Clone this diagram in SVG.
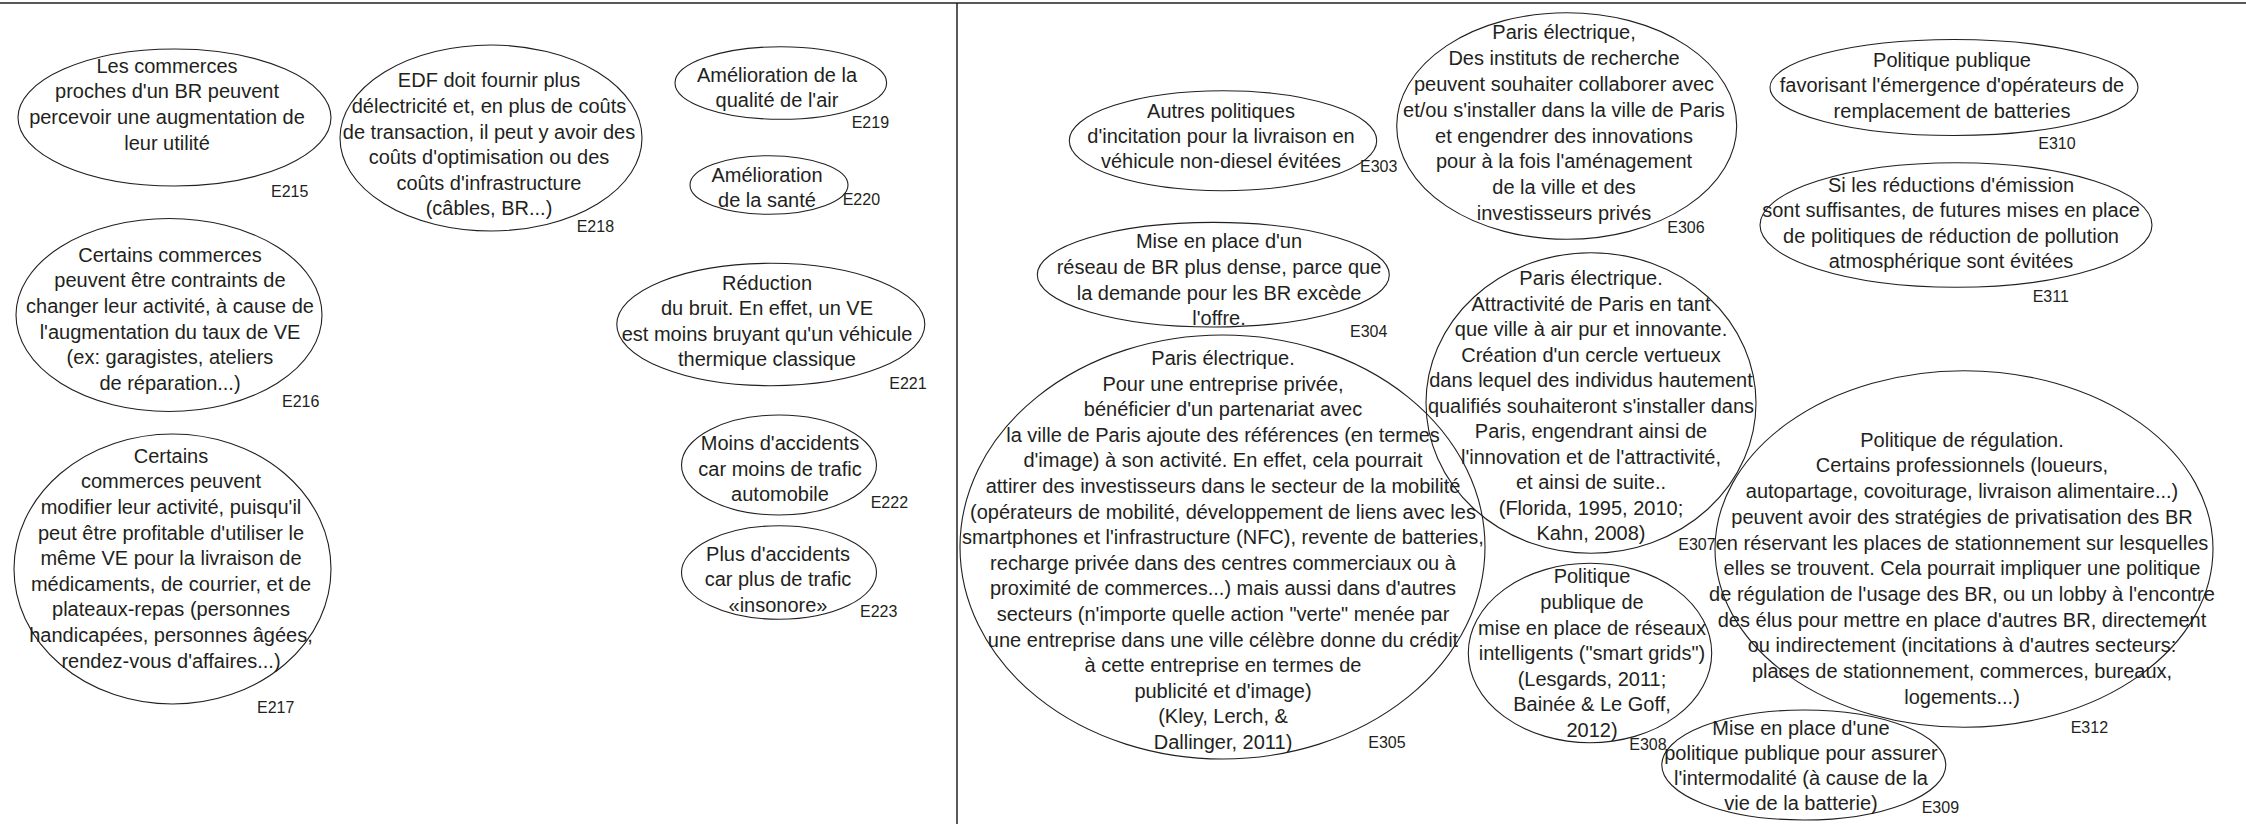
<svg xmlns="http://www.w3.org/2000/svg" width="2246" height="824" viewBox="0 0 2246 824">
<style>
.bg{fill:#ffffff}
.frame{stroke:#231f20;stroke-width:1.5;fill:none}
.n ellipse{fill:none;stroke:#231f20;stroke-width:1.1}
.t{font-family:"Liberation Sans",Arial,sans-serif;font-size:20px;fill:#231f20;text-anchor:middle}
.l{font-family:"Liberation Sans",Arial,sans-serif;font-size:16px;fill:#231f20}
</style>
<rect class="bg" x="0" y="0" width="2246" height="824"/>
<g id="frame">
<line class="frame" x1="0" y1="3" x2="2246" y2="3"/>
<line class="frame" x1="957" y1="3" x2="957" y2="824"/>
</g>
<g id="connectors"/>

<g id="E215" class="n">
<ellipse cx="174.5" cy="117.5" rx="156.5" ry="68.5"/>
<text class="t" y="72.7"><tspan x="167">Les commerces</tspan><tspan x="167" dy="25.6">proches d'un BR peuvent</tspan><tspan x="167" dy="25.6">percevoir une augmentation de</tspan><tspan x="167" dy="25.6">leur utilité</tspan></text>
<text class="l" x="271" y="196.7">E215</text>
</g>

<g id="E216" class="n">
<ellipse cx="169" cy="315" rx="153" ry="96.5"/>
<text class="t" y="261.7"><tspan x="170">Certains commerces</tspan><tspan x="170" dy="25.6">peuvent être contraints de</tspan><tspan x="170" dy="25.6">changer leur activité, à cause de</tspan><tspan x="170" dy="25.6">l'augmentation du taux de VE</tspan><tspan x="170" dy="25.6">(ex: garagistes, ateliers</tspan><tspan x="170" dy="25.6">de réparation...)</tspan></text>
<text class="l" x="282" y="406.7">E216</text>
</g>

<g id="E217" class="n">
<ellipse cx="172.5" cy="569" rx="158.5" ry="135"/>
<text class="t" y="462.7"><tspan x="171">Certains</tspan><tspan x="171" dy="25.6">commerces peuvent</tspan><tspan x="171" dy="25.6">modifier leur activité, puisqu'il</tspan><tspan x="171" dy="25.6">peut être profitable d'utiliser le</tspan><tspan x="171" dy="25.6">même VE pour la livraison de</tspan><tspan x="171" dy="25.6">médicaments, de courrier, et de</tspan><tspan x="171" dy="25.6">plateaux-repas (personnes</tspan><tspan x="171" dy="25.6">handicapées, personnes âgées,</tspan><tspan x="171" dy="25.6">rendez-vous d'affaires...)</tspan></text>
<text class="l" x="257" y="713.3">E217</text>
</g>

<g id="E218" class="n">
<ellipse cx="491" cy="138" rx="151" ry="93"/>
<text class="t" y="87.3"><tspan x="489">EDF doit fournir plus</tspan><tspan x="489" dy="25.6">délectricité et, en plus de coûts</tspan><tspan x="489" dy="25.6">de transaction, il peut y avoir des</tspan><tspan x="489" dy="25.6">coûts d'optimisation ou des</tspan><tspan x="489" dy="25.6">coûts d'infrastructure</tspan><tspan x="489" dy="25.6">(câbles, BR...)</tspan></text>
<text class="l" x="576.7" y="231.7">E218</text>
</g>

<g id="E219" class="n">
<ellipse cx="780.8" cy="83" rx="105.8" ry="36.3"/>
<text class="t" y="81.7"><tspan x="777">Amélioration de la</tspan><tspan x="777" dy="25.6">qualité de l'air</tspan></text>
<text class="l" x="851.7" y="128.3">E219</text>
</g>

<g id="E220" class="n">
<ellipse cx="769" cy="185" rx="79" ry="29.3"/>
<text class="t" y="181.7"><tspan x="767">Amélioration</tspan><tspan x="767" dy="25">de la santé</tspan></text>
<text class="l" x="842.7" y="205">E220</text>
</g>

<g id="E221" class="n">
<ellipse cx="770.8" cy="324.5" rx="154" ry="61.2"/>
<text class="t" y="290"><tspan x="767">Réduction</tspan><tspan x="767" dy="25.4">du bruit. En effet, un VE</tspan><tspan x="767" dy="25.4">est moins bruyant qu'un véhicule</tspan><tspan x="767" dy="25.4">thermique classique</tspan></text>
<text class="l" x="889.3" y="389">E221</text>
</g>

<g id="E222" class="n">
<ellipse cx="779" cy="465" rx="97.5" ry="50"/>
<text class="t" y="450"><tspan x="780">Moins d'accidents</tspan><tspan x="780" dy="25.5">car moins de trafic</tspan><tspan x="780" dy="25.5">automobile</tspan></text>
<text class="l" x="870.7" y="508.3">E222</text>
</g>

<g id="E223" class="n">
<ellipse cx="779" cy="572.5" rx="97.5" ry="46.8"/>
<text class="t" y="561"><tspan x="778">Plus d'accidents</tspan><tspan x="778" dy="25.4">car plus de trafic</tspan><tspan x="778" dy="25.4">«insonore»</tspan></text>
<text class="l" x="860" y="616.7">E223</text>
</g>

<g id="E303" class="n">
<ellipse cx="1223" cy="140.7" rx="153.7" ry="50"/>
<text class="t" y="118.3"><tspan x="1221">Autres politiques</tspan><tspan x="1221" dy="25">d'incitation pour la livraison en</tspan><tspan x="1221" dy="25">véhicule non-diesel évitées</tspan></text>
<text class="l" x="1360" y="171.7">E303</text>
</g>

<g id="E304" class="n">
<ellipse cx="1213.3" cy="274.7" rx="176" ry="52.3"/>
<text class="t" y="248.3"><tspan x="1219">Mise en place d'un</tspan><tspan x="1219" dy="25.6">réseau de BR plus dense, parce que</tspan><tspan x="1219" dy="25.6">la demande pour les BR excède</tspan><tspan x="1219" dy="25.6">l'offre.</tspan></text>
<text class="l" x="1350" y="337.3">E304</text>
</g>

<g id="E305" class="n">
<ellipse cx="1222.5" cy="547" rx="262.5" ry="212"/>
<text class="t" y="365"><tspan x="1223">Paris électrique.</tspan><tspan x="1223" dy="25.6">Pour une entreprise privée,</tspan><tspan x="1223" dy="25.6">bénéficier d'un partenariat avec</tspan><tspan x="1223" dy="25.6">la ville de Paris ajoute des références (en termes</tspan><tspan x="1223" dy="25.6">d'image) à son activité. En effet, cela pourrait</tspan><tspan x="1223" dy="25.6">attirer des investisseurs dans le secteur de la mobilité</tspan><tspan x="1223" dy="25.6">(opérateurs de mobilité, développement de liens avec les</tspan><tspan x="1223" dy="25.6">smartphones et l'infrastructure (NFC), revente de batteries,</tspan><tspan x="1223" dy="25.6">recharge privée dans des centres commerciaux ou à</tspan><tspan x="1223" dy="25.6">proximité de commerces...) mais aussi dans d'autres</tspan><tspan x="1223" dy="25.6">secteurs (n'importe quelle action "verte" menée par</tspan><tspan x="1223" dy="25.6">une entreprise dans une ville célèbre donne du crédit</tspan><tspan x="1223" dy="25.6">à cette entreprise en termes de</tspan><tspan x="1223" dy="25.6">publicité et d'image)</tspan><tspan x="1223" dy="25.6">(Kley, Lerch, &amp;</tspan><tspan x="1223" dy="25.6">Dallinger, 2011)</tspan></text>
<text class="l" x="1368.3" y="748.3">E305</text>
</g>

<g id="E306" class="n">
<ellipse cx="1566.7" cy="126" rx="170" ry="113.3"/>
<text class="t" y="39.3"><tspan x="1564">Paris électrique,</tspan><tspan x="1564" dy="25.8">Des instituts de recherche</tspan><tspan x="1564" dy="25.8">peuvent souhaiter collaborer avec</tspan><tspan x="1564" dy="25.8">et/ou s'installer dans la ville de Paris</tspan><tspan x="1564" dy="25.8">et engendrer des innovations</tspan><tspan x="1564" dy="25.8">pour à la fois l'aménagement</tspan><tspan x="1564" dy="25.8">de la ville et des</tspan><tspan x="1564" dy="25.8">investisseurs privés</tspan></text>
<text class="l" x="1667.3" y="233.3">E306</text>
</g>

<g id="E307" class="n">
<ellipse cx="1591" cy="403" rx="165" ry="150.3"/>
<text class="t" y="285"><tspan x="1591">Paris électrique.</tspan><tspan x="1591" dy="25.5">Attractivité de Paris en tant</tspan><tspan x="1591" dy="25.5">que ville à air pur et innovante.</tspan><tspan x="1591" dy="25.5">Création d'un cercle vertueux</tspan><tspan x="1591" dy="25.5">dans lequel des individus hautement</tspan><tspan x="1591" dy="25.5">qualifiés souhaiteront s'installer dans</tspan><tspan x="1591" dy="25.5">Paris, engendrant ainsi de</tspan><tspan x="1591" dy="25.5">l'innovation et de l'attractivité,</tspan><tspan x="1591" dy="25.5">et ainsi de suite..</tspan><tspan x="1591" dy="25.5">(Florida, 1995, 2010;</tspan><tspan x="1591" dy="25.5">Kahn, 2008)</tspan></text>
<text class="l" x="1678.3" y="550">E307</text>
</g>

<g id="E308" class="n">
<ellipse cx="1590" cy="653" rx="121.7" ry="89.7"/>
<text class="t" y="583.3"><tspan x="1592">Politique</tspan><tspan x="1592" dy="25.6">publique de</tspan><tspan x="1592" dy="25.6">mise en place de réseaux</tspan><tspan x="1592" dy="25.6">intelligents ("smart grids")</tspan><tspan x="1592" dy="25.6">(Lesgards, 2011;</tspan><tspan x="1592" dy="25.6">Bainée &amp; Le Goff,</tspan><tspan x="1592" dy="25.6">2012)</tspan></text>
<text class="l" x="1629.3" y="750">E308</text>
</g>

<g id="E309" class="n">
<ellipse cx="1803.8" cy="765" rx="142" ry="55"/>
<text class="t" y="735"><tspan x="1801">Mise en place d'une</tspan><tspan x="1801" dy="25">politique publique pour assurer</tspan><tspan x="1801" dy="25">l'intermodalité (à cause de la</tspan><tspan x="1801" dy="25">vie de la batterie)</tspan></text>
<text class="l" x="1921.7" y="812.7">E309</text>
</g>

<g id="E310" class="n">
<ellipse cx="1954" cy="87.5" rx="184" ry="48"/>
<text class="t" y="66.7"><tspan x="1952">Politique publique</tspan><tspan x="1952" dy="25.5">favorisant l'émergence d'opérateurs de</tspan><tspan x="1952" dy="25.5">remplacement de batteries</tspan></text>
<text class="l" x="2038.3" y="149.3">E310</text>
</g>

<g id="E311" class="n">
<ellipse cx="1956" cy="225" rx="196" ry="62.3"/>
<text class="t" y="191.7"><tspan x="1951">Si les réductions d'émission</tspan><tspan x="1951" dy="25.5">sont suffisantes, de futures mises en place</tspan><tspan x="1951" dy="25.5">de politiques de réduction de pollution</tspan><tspan x="1951" dy="25.5">atmosphérique sont évitées</tspan></text>
<text class="l" x="2032.7" y="301.7">E311</text>
</g>

<g id="E312" class="n">
<ellipse cx="1964" cy="549" rx="249" ry="178.3"/>
<text class="t" y="446.7"><tspan x="1962">Politique de régulation.</tspan><tspan x="1962" dy="25.7">Certains professionnels (loueurs,</tspan><tspan x="1962" dy="25.7">autopartage, covoiturage, livraison alimentaire...)</tspan><tspan x="1962" dy="25.7">peuvent avoir des stratégies de privatisation des BR</tspan><tspan x="1962" dy="25.7">en réservant les places de stationnement sur lesquelles</tspan><tspan x="1962" dy="25.7">elles se trouvent. Cela pourrait impliquer une politique</tspan><tspan x="1962" dy="25.7">de régulation de l'usage des BR, ou un lobby à l'encontre</tspan><tspan x="1962" dy="25.7">des élus pour mettre en place d'autres BR, directement</tspan><tspan x="1962" dy="25.7">ou indirectement (incitations à d'autres secteurs:</tspan><tspan x="1962" dy="25.7">places de stationnement, commerces, bureaux,</tspan><tspan x="1962" dy="25.7">logements...)</tspan></text>
<text class="l" x="2070.7" y="733.3">E312</text>
</g>
</svg>
